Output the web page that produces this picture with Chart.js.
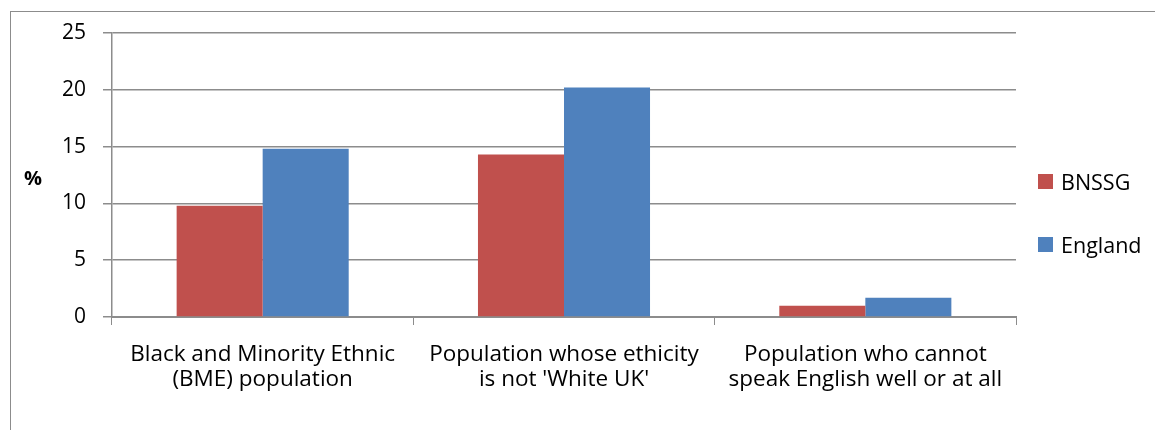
<!DOCTYPE html>
<html>
<head>
<meta charset="utf-8">
<script src="https://cdn.jsdelivr.net/npm/chart.js@4/dist/chart.umd.min.js"></script>
<style>
  body { margin:0; background:#fff; overflow:hidden; }
  #wrap { position:relative; width:1155px; height:430px; }
  #frame { position:absolute; left:10px; top:11px; width:1200px; height:500px; border:1px solid #8c8c8c; }
  #chart { position:absolute; left:0; top:0; }
  .leg { position:absolute; left:1038px; height:15px; display:flex; align-items:center; font:21.5px "Open Sans", sans-serif; color:#000; white-space:nowrap; }
  .leg span { display:inline-block; width:15px; height:15px; margin-right:8px; }
</style>
</head>
<body>
<div id="wrap">
  <div id="frame"></div>
  <canvas id="chart" width="1155" height="430"></canvas>
  <div id="legend"></div>
</div>
<script>
const categorias = [
  ["Black and Minority Ethnic", "(BME) population"],
  ["Population whose ethicity", "is not 'White UK'"],
  ["Population who cannot", "speak English well or at all"]
];
const series = ["BNSSG", "England"];
const bnssg = [9.8, 14.3, 1.0];
const england = [14.8, 20.2, 1.7];
const colores = ["#C0504D", "#4F81BD"];
const yTicks = [0, 5, 10, 15, 20, 25];

const fuente = "'Open Sans', sans-serif";
const gris = "#8c8c8c";

const percentLabel = {
  id: "percentLabel",
  afterDraw(chart) {
    const { ctx, chartArea } = chart;
    ctx.save();
    ctx.font = "bold 20px " + fuente;
    ctx.fillStyle = "#000";
    ctx.textAlign = "center";
    ctx.textBaseline = "middle";
    ctx.fillText("%", 33, (chartArea.top + chartArea.bottom) / 2 + 4);
    ctx.restore();
  }
};

const chart = new Chart(document.getElementById("chart").getContext("2d"), {
  type: "bar",
  data: {
    labels: categorias,
    datasets: [
      { label: series[0], data: bnssg, backgroundColor: colores[0] },
      { label: series[1], data: england, backgroundColor: colores[1] }
    ]
  },
  options: {
    responsive: false,
    devicePixelRatio: 1,
    animation: false,
    layout: { padding: { left: 0, top: 33, right: 139, bottom: 0 } },
    datasets: { bar: { categoryPercentage: 0.571, barPercentage: 1 } },
    plugins: { legend: { display: false }, tooltip: { enabled: false } },
    scales: {
      x: {
        grid: { offset: true, drawOnChartArea: false, color: gris, tickLength: 8 },
        border: { color: gris, width: 2 },
        ticks: { color: "#000", padding: 17, maxRotation: 0, font: { family: fuente, size: 22.5, lineHeight: "25px" } },
        afterFit(s) { s.height = 113; }
      },
      y: {
        min: 0, max: 25,
        afterBuildTicks(s) { s.ticks = yTicks.map(v => ({ value: v })); },
        grid: { color: gris, lineWidth: 1.5, tickLength: 9 },
        border: { color: gris, width: 1.5 },
        ticks: { color: "#000", padding: 17, font: { family: fuente, size: 21 } },
        afterFit(s) { s.width = 112; }
      }
    }
  },
  plugins: [percentLabel]
});

// leyenda en HTML a partir de los datasets
const leg = document.getElementById("legend");
chart.data.datasets.forEach((ds, i) => {
  const d = document.createElement("div");
  d.className = "leg";
  d.style.top = (174 + i * 63) + "px";
  d.innerHTML = `<span style="background:${ds.backgroundColor}"></span>${ds.label}`;
  leg.appendChild(d);
});
</script>
</body>
</html>
